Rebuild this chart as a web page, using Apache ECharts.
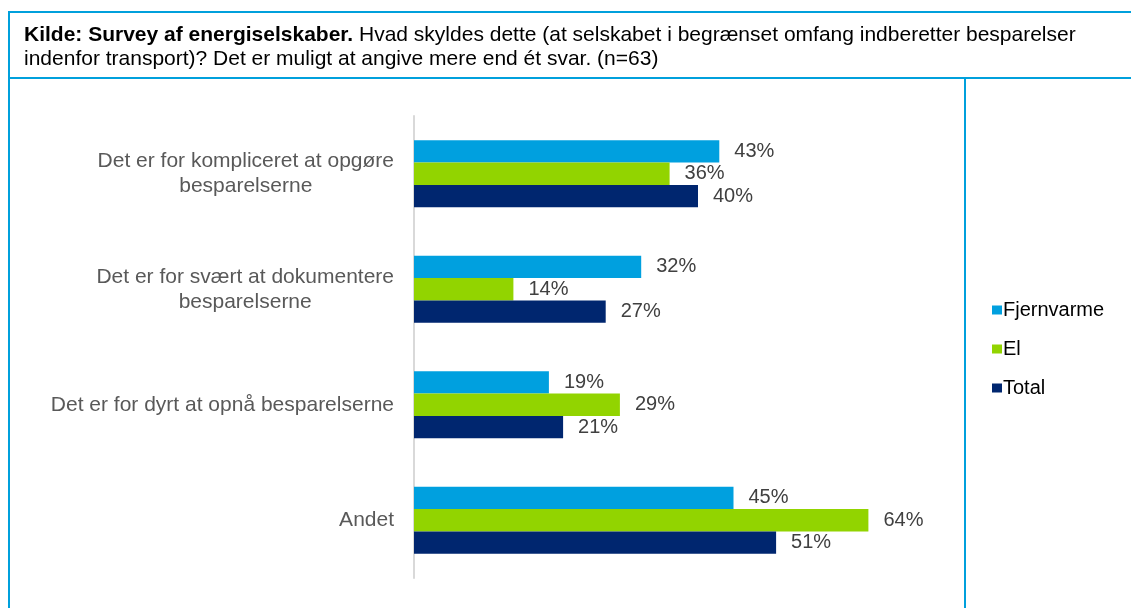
<!DOCTYPE html>
<html>
<head>
<meta charset="utf-8">
<script src="https://cdn.jsdelivr.net/npm/echarts@6/dist/echarts.min.js"></script>
<style>
  html, body { margin: 0; padding: 0; background: #fff; }
  #chart { width: 1131px; height: 608px; }
</style>
</head>
<body>
<div id="chart"></div>
<script>
var chart = echarts.init(document.getElementById('chart'));

var categories = [
    'Det er for kompliceret at opgøre\nbesparelserne',
    'Det er for svært at dokumentere\nbesparelserne',
    'Det er for dyrt at opnå besparelserne',
    'Andet'
];
var fjernvarme = [43, 32, 19, 45];
var el = [36, 14, 29, 64];
var total = [40, 27, 21, 51];

var seriesNames = ['Fjernvarme', 'El', 'Total'];
var colors = ['#00a0df', '#92d400', '#00266f'];
var frameColor = '#00a0dc';
var font = 'Liberation Sans, Arial, sans-serif';

function makeSeries(name, values, color) {
    return {
        name: name,
        type: 'bar',
        data: values,
        barGap: '0%',
        barCategoryGap: '42%',
        itemStyle: { color: color },
        label: {
            show: true,
            position: 'right',
            distance: 15,
            formatter: '{c}%',
            color: '#404040',
            fontFamily: font,
            fontSize: 20
        }
    };
}

chart.setOption({
    animation: false,
    color: colors,
    title: {
        left: 19,
        top: 18,
        text: '{b|Kilde: Survey af energiselskaber.} Hvad skyldes dette (at selskabet i begrænset omfang indberetter besparelser\nindenfor transport)? Det er muligt at angive mere end ét svar. (n=63)',
        textStyle: {
            fontFamily: font,
            fontSize: 21,
            fontWeight: 'normal',
            color: '#000',
            lineHeight: 24,
            rich: {
                b: {
                    fontFamily: font,
                    fontSize: 21,
                    fontWeight: 'bold',
                    color: '#000',
                    lineHeight: 24
                }
            }
        }
    },
    legend: {
        orient: 'vertical',
        left: 987,
        top: 295,
        itemWidth: 10,
        itemHeight: 9,
        itemGap: 19,
        icon: 'rect',
        data: seriesNames,
        textStyle: {
            fontFamily: font,
            fontSize: 20,
            color: '#000',
            padding: [0, 0, 0, -4]
        }
    },
    grid: {
        left: 414,
        top: 116,
        width: 497,
        height: 462,
        containLabel: false
    },
    xAxis: {
        type: 'value',
        min: 0,
        max: 70,
        show: false
    },
    yAxis: {
        type: 'category',
        inverse: true,
        data: categories,
        axisLine: { show: true, lineStyle: { color: '#d9d9d9', width: 2 } },
        axisTick: { show: false },
        axisLabel: {
            margin: 20,
            align: 'right',
            formatter: function (v) {
                return v.split('\n').map(function (line) { return '{c|' + line + '}'; }).join('\n');
            },
            rich: {
                c: {
                    align: 'center',
                    fontFamily: font,
                    fontSize: 21,
                    lineHeight: 25,
                    color: '#595959'
                }
            }
        }
    },
    series: [
        makeSeries(seriesNames[0], fjernvarme, colors[0]),
        makeSeries(seriesNames[1], el, colors[1]),
        makeSeries(seriesNames[2], total, colors[2])
    ],
    graphic: [
        { type: 'line', shape: { x1: 9, y1: 12, x2: 1131, y2: 12 }, style: { stroke: frameColor, lineWidth: 2 } },
        { type: 'line', shape: { x1: 9, y1: 11, x2: 9, y2: 608 }, style: { stroke: frameColor, lineWidth: 2 } },
        { type: 'line', shape: { x1: 9, y1: 78, x2: 1131, y2: 78 }, style: { stroke: frameColor, lineWidth: 2 } },
        { type: 'line', shape: { x1: 965, y1: 78, x2: 965, y2: 608 }, style: { stroke: frameColor, lineWidth: 2 } }
    ]
});
</script>
</body>
</html>
